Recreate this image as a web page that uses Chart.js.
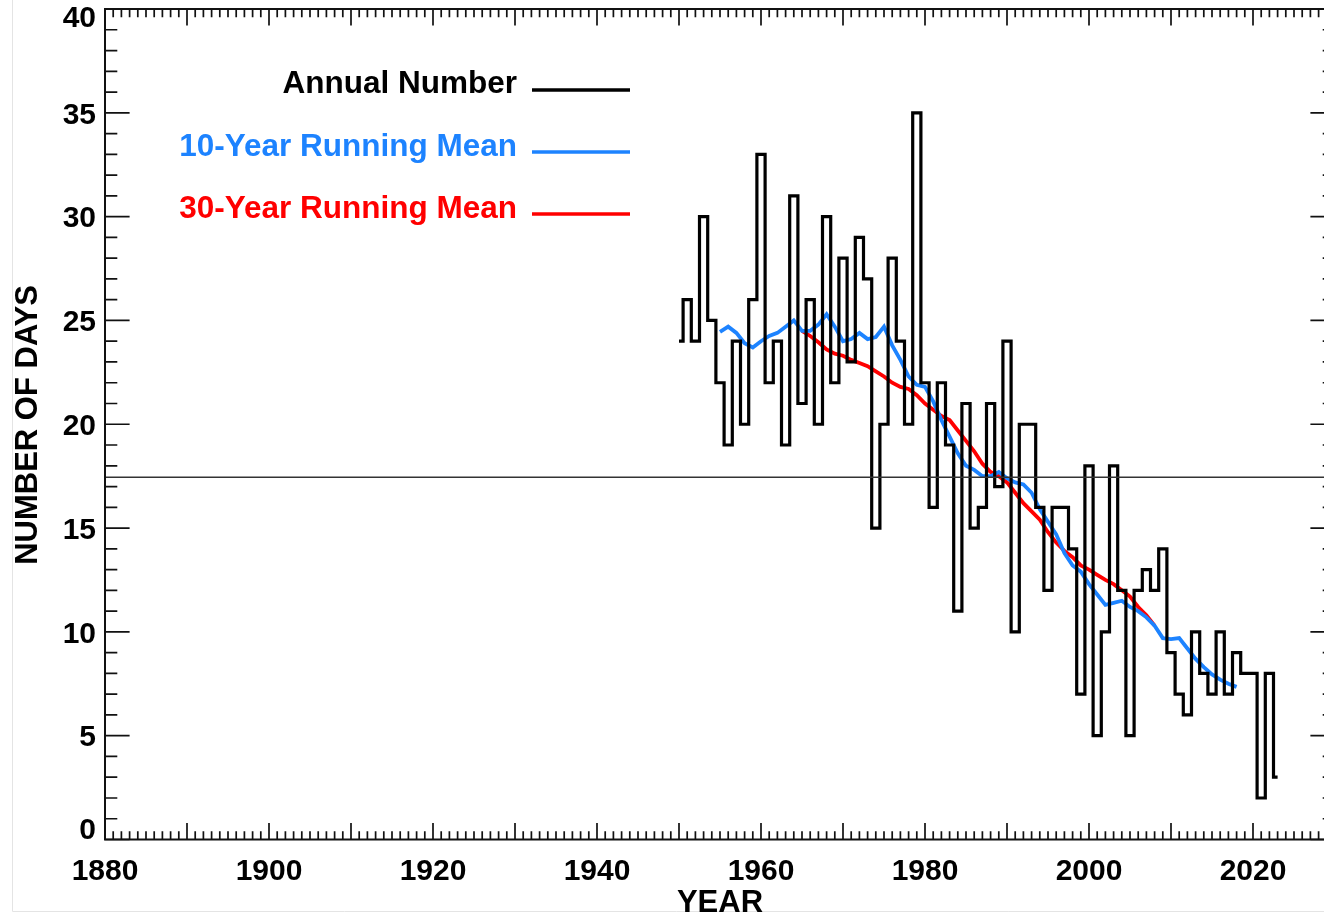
<!DOCTYPE html>
<html>
<head>
<meta charset="utf-8">
<script src="https://cdn.jsdelivr.net/npm/chart.js@4.4.1/dist/chart.umd.min.js"></script>
<style>
  html, body { margin: 0; padding: 0; background: #fff; width: 1324px; height: 914px; overflow: hidden; }
  canvas { display: block; }
</style>
</head>
<body>
<canvas id="c" width="1340" height="914"></canvas>
<script>
// ---------------- data ----------------
const years = [1950,1951,1952,1953,1954,1955,1956,1957,1958,1959,
               1960,1961,1962,1963,1964,1965,1966,1967,1968,1969,
               1970,1971,1972,1973,1974,1975,1976,1977,1978,1979,
               1980,1981,1982,1983,1984,1985,1986,1987,1988,1989,
               1990,1991,1992,1993,1994,1995,1996,1997,1998,1999,
               2000,2001,2002,2003,2004,2005,2006,2007,2008,2009,
               2010,2011,2012,2013,2014,2015,2016,2017,2018,2019,
               2020,2021,2022,2023];
const annualDays = [24,26,24,30,25,22,19,24,20,26,
                    33,22,24,19,31,21,26,20,30,22,
                    28,23,29,27,15,20,28,24,20,35,
                    22,16,22,19,11,21,15,16,21,17,
                    24,10,20,20,16,12,16,16,14,7,
                    18,5,10,18,12,5,12,13,12,14,
                    9,7,6,10,8,7,10,7,9,8,
                    8,2,8,3];

const mean10Years = [1955,1956,1957,1958,1959,1960,1961,1962,1963,1964,
                     1965,1966,1967,1968,1969,1970,1971,1972,1973,1974,
                     1975,1976,1977,1978,1979,1980,1981,1982,1983,1984,
                     1985,1986,1987,1988,1989,1990,1991,1992,1993,1994,
                     1995,1996,1997,1998,1999,2000,2001,2002,2003,2004,
                     2005,2006,2007,2008,2009,2010,2011,2012,2013,2014,
                     2015,2016,2017,2018];
const mean10 = [24.45,24.7,24.4,23.9,23.7,24.0,24.25,24.4,24.7,25.0,
                24.5,24.5,24.8,25.3,24.7,24.0,24.1,24.4,24.1,24.2,
                24.7,23.8,23.1,22.3,21.9,21.8,21.1,20.2,19.4,18.6,
                18.0,17.8,17.5,17.5,17.7,17.4,17.2,17.1,16.7,15.9,
                15.3,14.7,13.8,13.2,12.9,12.3,11.8,11.3,11.4,11.5,
                11.2,11.0,10.7,10.3,9.7,9.65,9.7,9.2,8.7,8.3,
                7.95,7.7,7.5,7.35];

const mean30Years = [1965,1966,1967,1968,1969,1970,1971,1972,1973,1974,
                     1975,1976,1977,1978,1979,1980,1981,1982,1983,1984,
                     1985,1986,1987,1988,1989,1990,1991,1992,1993,1994,
                     1995,1996,1997,1998,1999,2000,2001,2002,2003,2004,
                     2005,2006,2007,2008];
const mean30 = [24.5,24.25,23.95,23.6,23.4,23.3,23.1,22.95,22.8,22.55,
                22.3,22.0,21.8,21.7,21.4,21.0,20.7,20.4,20.2,19.7,
                19.2,18.7,18.1,17.7,17.5,17.2,16.7,16.2,15.8,15.4,
                14.8,14.3,13.9,13.6,13.2,13.0,12.75,12.5,12.3,12.0,
                11.7,11.2,10.8,10.3];

const referenceLevel = 17.45;
const xRange = [1880, 2030];
const yRange = [0, 40];
const xTickLabels = [1880,1900,1920,1940,1960,1980,2000,2020];
const yTickLabels = [0,5,10,15,20,25,30,35,40];
const legendLabels = ['Annual Number','10-Year Running Mean','30-Year Running Mean'];

// ---------------- styles ----------------
const BLUE = '#1d83ff';
const RED = '#ff0000';
const FONT_FAMILY = '"Liberation Sans", Arial, Helvetica, sans-serif';

const toXY = (xs, ys) => xs.map((x, i) => ({x: x, y: ys[i]}));

const boxPlugin = {
  id: 'idlBox',
  afterDraw(chart) {
    const ctx = chart.ctx;
    const xs = chart.scales.x, ys = chart.scales.y;
    const a = chart.chartArea;
    ctx.save();
    // faint outer frame
    ctx.strokeStyle = '#e4e4e4';
    ctx.lineWidth = 1;
    ctx.beginPath();
    ctx.moveTo(12.5, 0); ctx.lineTo(12.5, 911.5); ctx.lineTo(1340, 911.5);
    ctx.stroke();

    // ticks (inward)
    ctx.strokeStyle = '#111';
    ctx.lineWidth = 1.7;
    ctx.beginPath();
    for (let yr = xRange[0]; yr <= xRange[1]; yr++) {
      const px = xs.getPixelForValue(yr);
      const len = (yr % 10 === 0) ? 16.6 : 8.3;
      ctx.moveTo(px, a.bottom); ctx.lineTo(px, a.bottom - len);
      ctx.moveTo(px, a.top); ctx.lineTo(px, a.top + len);
    }
    for (let v = yRange[0]; v <= yRange[1]; v++) {
      const py = ys.getPixelForValue(v);
      const len = (v % 5 === 0) ? 24.6 : 12.3;
      ctx.moveTo(a.left, py); ctx.lineTo(a.left + len, py);
      ctx.moveTo(a.right, py); ctx.lineTo(a.right - len, py);
    }
    ctx.stroke();
    // box
    ctx.lineWidth = 2;
    ctx.strokeRect(a.left, a.top, a.right - a.left, a.bottom - a.top);

    // tick labels
    ctx.fillStyle = '#000';
    ctx.font = 'bold 30px ' + FONT_FAMILY;
    ctx.textAlign = 'center';
    ctx.textBaseline = 'alphabetic';
    xTickLabels.forEach(t => {
      ctx.fillText(String(t), xs.getPixelForValue(t), 880);
    });
    ctx.textAlign = 'right';
    yTickLabels.forEach(t => {
      let cy = ys.getPixelForValue(t);
      if (t === yRange[0]) cy -= 11.5;
      if (t === yRange[1]) cy += 7;
      ctx.fillText(String(t), 96, cy + 10.7);
    });

    // axis titles
    ctx.font = 'bold 31px ' + FONT_FAMILY;
    ctx.textAlign = 'center';
    ctx.fillText('YEAR', (a.left + a.right) / 2, 912);
    ctx.save();
    ctx.translate(37, 425);
    ctx.rotate(-Math.PI / 2);
    ctx.fillText('NUMBER OF DAYS', 0, 0);
    ctx.restore();

    // legend
    ctx.font = 'bold 31.5px ' + FONT_FAMILY;
    const colors = ['#000', BLUE, RED];
    const centers = [82, 145, 207];
    const lineYs = [90, 152, 214];
    ctx.textAlign = 'right';
    legendLabels.forEach((lab, i) => {
      ctx.fillStyle = colors[i];
      ctx.fillText(lab, 517, centers[i] + 11);
      ctx.strokeStyle = colors[i];
      ctx.lineWidth = 3.5;
      ctx.beginPath();
      ctx.moveTo(532, lineYs[i]); ctx.lineTo(630, lineYs[i]);
      ctx.stroke();
    });
    ctx.restore();
  }
};

new Chart(document.getElementById('c'), {
  type: 'line',
  data: {
    datasets: [
      { label: 'mean', data: [{x: xRange[0], y: referenceLevel}, {x: xRange[1], y: referenceLevel}],
        borderColor: '#333', borderWidth: 1.4, pointRadius: 0, fill: false },
      { label: legendLabels[0], data: toXY(years, annualDays), stepped: 'middle',
        borderColor: '#000', borderWidth: 3.2, pointRadius: 0, fill: false },
      { label: legendLabels[1], data: toXY(mean10Years, mean10),
        borderColor: BLUE, borderWidth: 3.8, pointRadius: 0, fill: false, tension: 0 },
      { label: legendLabels[2], data: toXY(mean30Years, mean30),
        borderColor: RED, borderWidth: 3.8, pointRadius: 0, fill: false, tension: 0 }
    ]
  },
  options: {
    responsive: false,
    animation: false,
    events: [],
    layout: { padding: { left: 0, right: 5, top: 9, bottom: 0 } },
    plugins: { legend: { display: false }, tooltip: { enabled: false } },
    scales: {
      x: { type: 'linear', min: xRange[0], max: xRange[1],
           ticks: { display: false }, grid: { display: false }, border: { display: false },
           afterFit: s => { s.height = 74.5; } },
      y: { type: 'linear', min: yRange[0], max: yRange[1],
           ticks: { display: false }, grid: { display: false }, border: { display: false },
           afterFit: s => { s.width = 105; } }
    }
  },
  plugins: [boxPlugin]
});
</script>
</body>
</html>
